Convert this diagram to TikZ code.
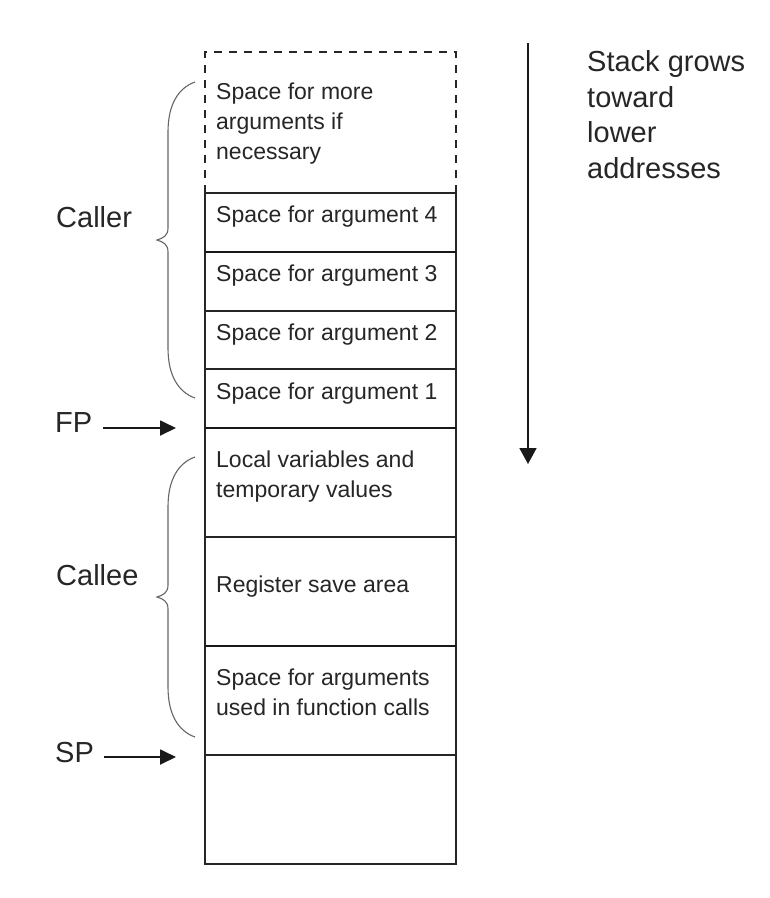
\documentclass[tikz,border=0pt]{standalone}
\usepackage{fontspec}
\setmainfont{Liberation Sans}
\usetikzlibrary{arrows.meta}
\tikzset{
  boxtext/.style={font=\fontsize{23}{30}\selectfont, anchor=base west, inner sep=0pt, align=left, text=black!85},
  lbltext/.style={font=\fontsize{29}{35.5}\selectfont, anchor=base west, inner sep=0pt, align=left, text=black!85},
  frameline/.style={line width=1.8pt, draw=black!85},
  thickline/.style={line width=2.8pt, draw=black!90},
  dashline/.style={line width=1.8pt, draw=black!85, dash pattern=on 8pt off 7pt},
  bracepath/.style={line width=1.1pt, draw=black!60},
  ptrarrow/.style={line width=1.8pt, draw=black!90, -{Triangle[length=16pt,width=15pt]}},
}
\begin{document}
\begin{tikzpicture}[x=1pt,y=-1pt]
\useasboundingbox[fill=white] (0,0) rectangle (770,898);
% dashed top part
\draw[dashline] (205,193) -- (205,52) -- (456,52) -- (456,193);
% solid frame
\draw[frameline] (205,193) -- (205,864) -- (456,864) -- (456,193);
% row separators
\draw[frameline] (205,193) -- (456,193);
\draw[thickline] (205,252) -- (456,252);
\draw[frameline] (205,311) -- (456,311);
\draw[frameline] (205,369) -- (456,369);
\draw[thickline] (205,428) -- (456,428);
\draw[frameline] (205,537) -- (456,537);
\draw[thickline] (205,646) -- (456,646);
\draw[frameline] (205,755) -- (456,755);
% box texts (base anchor = baseline of the last line)
\node[boxtext] (more) at (216,159) {Space for more\\arguments if\\necessary};
\node[boxtext] (arg4) at (216,222) {Space for argument 4};
\node[boxtext] (arg3) at (216,281) {Space for argument 3};
\node[boxtext] (arg2) at (216,340) {Space for argument 2};
\node[boxtext] (arg1) at (216,399) {Space for argument 1};
\node[boxtext] (local) at (216,497) {Local variables and\\temporary values};
\node[boxtext] (regs) at (216,592) {Register save area};
\node[boxtext] (outargs) at (216,715) {Space for arguments\\used in function calls};
% left labels
\node[lbltext] (caller) at (56,227) {Caller};
\node[lbltext] (callee) at (56,585) {Callee};
\node[lbltext] (fp) at (55,432) {FP};
\node[lbltext] (sp) at (55,762) {SP};
\coordinate (fpa) at (103,428);
\coordinate (fpb) at (176,428);
\coordinate (spa) at (104,757);
\coordinate (spb) at (176,757);
\draw[ptrarrow] (fpa) -- (fpb);
\draw[ptrarrow] (spa) -- (spb);
% braces
\draw[bracepath] (195,82) .. controls (178,88) and (168,105) .. (168,132)
  -- (168,228) .. controls (168,236) and (163,238) .. (157,240)
  .. controls (163,242) and (168,244) .. (168,252)
  -- (168,348) .. controls (168,375) and (178,392) .. (195,398);
\draw[bracepath] (195,457) .. controls (178,463) and (168,480) .. (168,507)
  -- (168,585) .. controls (168,593) and (163,595) .. (157,597)
  .. controls (163,599) and (168,601) .. (168,609)
  -- (168,687) .. controls (168,714) and (178,731) .. (195,737);
% growth direction
\coordinate (growtop) at (528,43);
\coordinate (growbot) at (528,464);
\draw[line width=1.8pt, draw=black!90, -{Triangle[length=16pt,width=17pt]}] (growtop) -- (growbot);
\node[lbltext] (grow) at (587,178) {Stack grows\\toward\\lower\\addresses};
\end{tikzpicture}
\end{document}
